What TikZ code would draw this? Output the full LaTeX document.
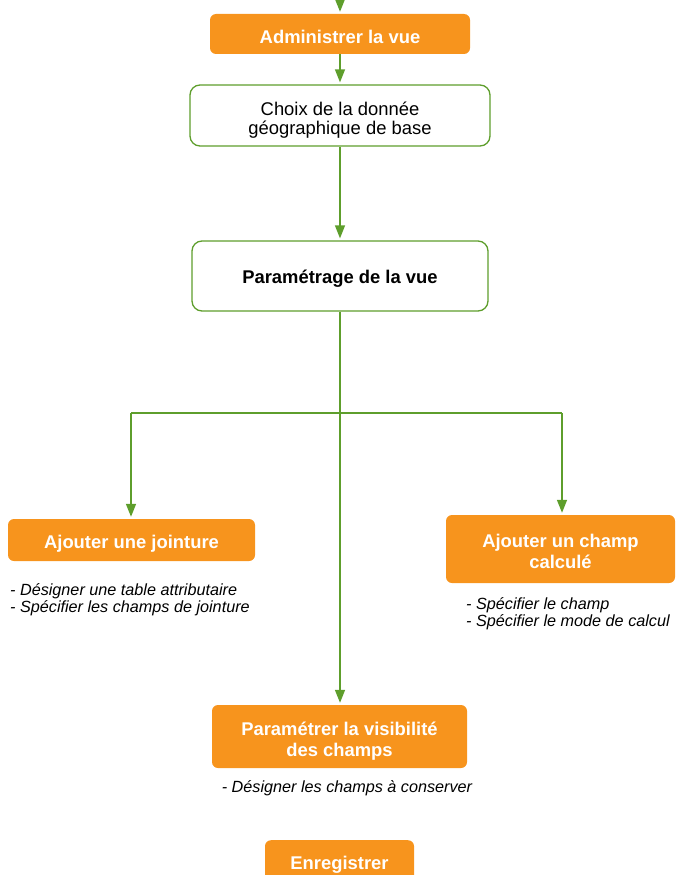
\documentclass[tikz,border=0pt]{standalone}
\usepackage{fontspec}
\setmainfont{Liberation Sans}
\usetikzlibrary{arrows.meta}
\definecolor{lgreen}{RGB}{94,158,44}
\definecolor{orangebox}{RGB}{247,148,29}
\begin{document}
\begin{tikzpicture}[x=1pt,y=-1pt,
  obox/.style={fill=orangebox,draw=none,rounded corners=6pt,inner sep=0pt},
  otext/.style={text=white,font=\fontsize{18.4}{21.5}\selectfont\bfseries,align=center,inner sep=0pt},
  wbox/.style={fill=white,draw=lgreen,line width=1.3pt,rounded corners=10pt,inner sep=0pt},
  wtext/.style={text=black,font=\fontsize{18.4}{19.5}\selectfont,align=center,inner sep=0pt},
  conn/.style={draw=lgreen,line width=1.4pt},
  arr/.style={conn,-{Triangle[length=13pt,width=10pt]},shorten >=2pt},
  note/.style={font=\fontsize{16.2}{17.8}\selectfont\itshape,align=left,inner sep=0pt,text=black}]
\useasboundingbox (0,0) rectangle (675,875);
\begin{scope}
\clip (0,0) rectangle (675,875);
\node[obox,minimum width=260pt,minimum height=40pt] (admin) at (340,34) {};
\node[otext] (admint) at ([yshift=-3pt]admin.center) {Administrer la vue};
\node[wbox,minimum width=300pt,minimum height=61pt] (choix) at (340,115.5) {};
\node[wtext] (choixt) at ([yshift=-4.5pt]choix.center) {Choix de la donnée\\géographique de base};
\node[wbox,minimum width=296pt,minimum height=70pt] (param) at (340,276) {};
\node[wtext,font=\fontsize{18.4}{21}\selectfont\bfseries] (paramt) at ([yshift=-3pt]param.center) {Paramétrage de la vue};
\node[obox,minimum width=247pt,minimum height=42pt] (joint) at (131.5,540) {};
\node[otext] (jointt) at ([yshift=-3.5pt]joint.center) {Ajouter une jointure};
\node[obox,minimum width=229pt,minimum height=68pt] (champ) at (560.5,549) {};
\node[otext] (champt) at ([yshift=-2.5pt]champ.center) {Ajouter un champ\\calculé};
\node[obox,minimum width=255pt,minimum height=63pt] (vis) at (339.5,736.5) {};
\node[otext] (vist) at ([yshift=-4.5pt]vis.center) {Paramétrer la visibilité\\des champs};
\node[obox,minimum width=149pt,minimum height=44pt,anchor=north] (enreg) at (339.5,840) {};
\node[otext] (enregt) at ([yshift=-3pt]enreg.center) {Enregistrer};
\node[note,anchor=north west] (n1) at (10,583) {- Désigner une table attributaire\\- Spécifier les champs de jointure};
\node[note,anchor=north west] (n2) at (466,597) {- Spécifier le champ\\- Spécifier le mode de calcul};
\node[note,anchor=north] (n3) at (347,780) {- Désigner les champs à conserver};
\coordinate (top) at (340,-5);
\coordinate (bl) at (131,413);
\coordinate (br) at (562,413);
\draw[arr] (top) -- (admin.north);
\draw[arr] (admin.south) -- (choix.north);
\draw[arr] (choix.south) -- (param.north);
\draw[arr] (param.south) -- (param.south |- vis.north);
\draw[conn] (bl) -- (br);
\draw[arr] (bl) -- (bl |- joint.north);
\draw[arr] (br) -- (br |- champ.north);
\end{scope}
\end{tikzpicture}
\end{document}
